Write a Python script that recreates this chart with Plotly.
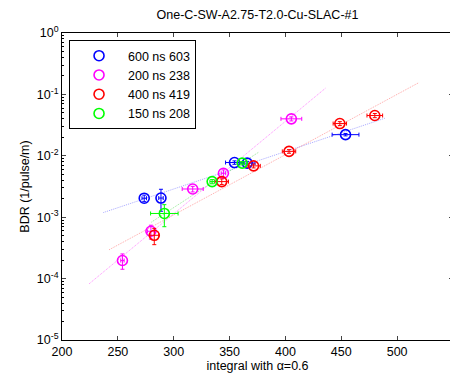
import plotly.graph_objects as go
import numpy as np

# ---- data ----
blue_x = [273.6, 288.6, 354.4, 365.8, 453.8]
blue_y = [2.04e-3, 2.05e-3, 7.77e-3, 7.6e-3, 0.0221]
blue_ex = [2, 2, 8, 7, 12]
blue_ey = [0.25e-3, 0.8e-3, 0.5e-3, 0.5e-3, 1.0e-3]

mag_x = [254.1, 279.6, 317.0, 344.5, 405.3]
mag_y = [1.97e-4, 5.9e-4, 2.88e-3, 5.2e-3, 0.040]
mag_ex = [1.5, 3, 9.4, 2, 9.3]
mag_ey = [0.55e-4, 1.5e-4, 0.3e-3, 0.7e-3, 3e-3]

red_x = [282.6, 343.0, 371.5, 403.2, 448.7, 480.0]
red_y = [5.07e-4, 3.8e-3, 6.85e-3, 0.0118, 0.0335, 0.0453]
red_ex = [4, 6, 6, 6, 6, 7]
red_ey = [1.5e-4, 0.4e-3, 0.5e-3, 0.8e-3, 2.5e-3, 3.5e-3]

green_x = [291.6, 334.4, 361.3]
green_y = [1.15e-3, 3.8e-3, 7.6e-3]
green_ex = [12.3, 2, 2]
green_ey = [0.45e-3, 0.3e-3, 0.5e-3]

# fit line end points (data space)
blue_fit_x = [237, 489]
blue_fit_y = [1.19e-3, 0.0409]
mag_fit_x = [224.2, 435.8]
mag_fit_y = [8.2e-5, 0.126]
red_fit_x = [242.2, 519.6]
red_fit_y = [2.95e-4, 0.156]
green_fit_x = [280, 376.2]
green_fit_y = [8.3e-4, 0.0115]

names = ["600 ns 603", "200 ns 238", "400 ns 419", "150 ns 208"]
colors = ["#0000FF", "#FF00FF", "#FF0000", "#00FF00"]
fit_colors = ["rgba(0,0,255,0.35)", "rgba(255,0,255,0.45)", "rgba(255,0,0,0.35)", "rgba(0,200,0,0.4)"]

y_tickvals = [1e-5, 1e-4, 1e-3, 1e-2, 1e-1, 1]
y_ticktext = ["10<sup>-5</sup>", "10<sup>-4</sup>", "10<sup>-3</sup>", "10<sup>-2</sup>", "10<sup>-1</sup>", "10<sup>0</sup>"]
x_tickvals = [200, 250, 300, 350, 400, 450, 500, 550]

series = [
    (blue_x, blue_y, blue_ex, blue_ey, blue_fit_x, blue_fit_y),
    (mag_x, mag_y, mag_ex, mag_ey, mag_fit_x, mag_fit_y),
    (red_x, red_y, red_ex, red_ey, red_fit_x, red_fit_y),
    (green_x, green_y, green_ex, green_ey, green_fit_x, green_fit_y),
]

fig = go.Figure()

for (sx, sy, ex, ey, fx, fy), fc in zip(series, fit_colors):
    xs = np.linspace(fx[0], fx[1], 30)
    ly = np.interp(xs, fx, np.log10(fy))
    fig.add_trace(go.Scatter(x=xs, y=10 ** ly, mode="lines",
                             line=dict(color=fc, width=1, dash="1px,1px"),
                             showlegend=False, hoverinfo="skip"))

for (sx, sy, ex, ey, fx, fy), name, c in zip(series, names, colors):
    fig.add_trace(go.Scatter(
        x=sx, y=sy, mode="markers", name=name,
        marker=dict(symbol="circle-open", size=10, color=c, line=dict(width=1.6, color=c)),
        error_x=dict(type="data", array=ex, color=c, thickness=1, width=2),
        error_y=dict(type="data", array=ey, color=c, thickness=1, width=2),
    ))

minor_vals = [m * 10.0 ** k for k in range(-5, 0) for m in range(2, 10)]

# page body has an 8px margin; figure is sized/offset to compensate
W, H = 450, 372
fig.update_layout(
    width=W, height=H,
    margin=dict(l=54, r=5, t=25, b=40, autoexpand=False),
    paper_bgcolor="white", plot_bgcolor="white",
    font=dict(family="Liberation Sans, Arial, sans-serif", size=12, color="black"),
    title=dict(text="One-C-SW-A2.75-T2.0-Cu-SLAC-#1", x=(54 + 445) / 2 / W, xanchor="center",
               y=1 - 7 / H, yanchor="middle", font=dict(size=12.5), automargin=False),
    showlegend=True,
    legend=dict(x=0.018, y=0.977, xanchor="left", yanchor="top",
                bordercolor="black", borderwidth=1, bgcolor="white",
                font=dict(size=12.5), tracegroupgap=0, itemwidth=48),
    xaxis=dict(range=[200, 550], tickvals=x_tickvals, ticks="inside", ticklen=4,
               showline=True, linecolor="black", linewidth=1, mirror="ticks",
               showgrid=False, zeroline=False, automargin=False,
               title=dict(text="integral with α=0.6", standoff=2, font=dict(size=12.5)),
               tickfont=dict(size=12.5)),
    yaxis=dict(type="log", range=[-5, 0], tickvals=y_tickvals, ticktext=y_ticktext,
               ticks="inside", ticklen=4,
               showline=True, linecolor="black", linewidth=1, mirror="ticks",
               showgrid=False, zeroline=False, automargin=False,
               minor=dict(tickvals=minor_vals, ticks="inside", ticklen=2, showgrid=False, tickcolor="black"),
               title=dict(text="BDR (1/pulse/m)", standoff=4, font=dict(size=12.5)),
               tickfont=dict(size=12.5)),
)

fig.write_html("out.html")
